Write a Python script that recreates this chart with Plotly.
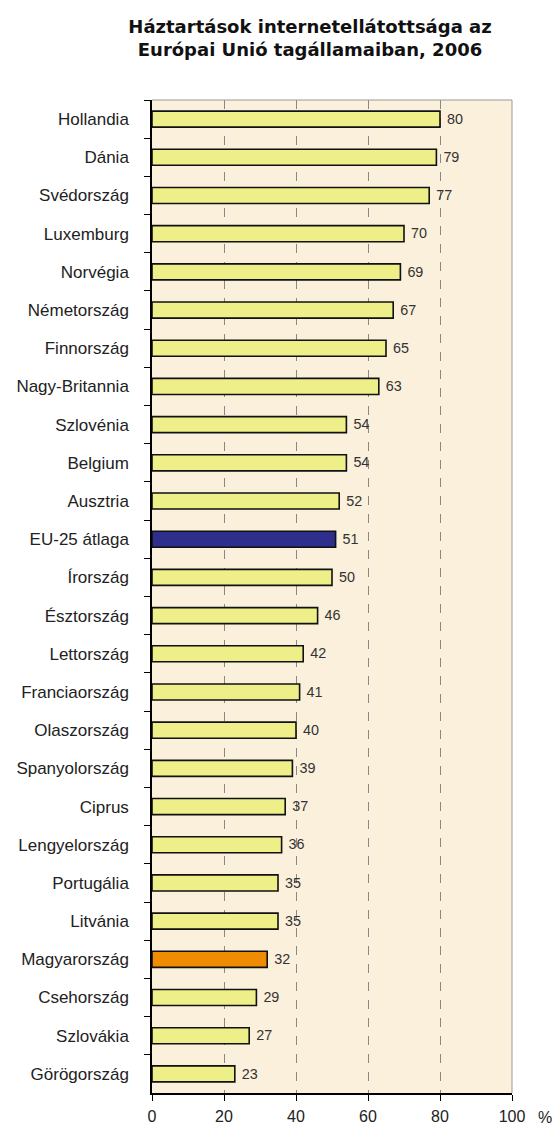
import plotly.graph_objects as go

countries = ["Hollandia", "Dánia", "Svédország", "Luxemburg", "Norvégia", "Németország",
             "Finnország", "Nagy-Britannia", "Szlovénia", "Belgium", "Ausztria", "EU-25 átlaga",
             "Írország", "Észtország", "Lettország", "Franciaország", "Olaszország",
             "Spanyolország", "Ciprus", "Lengyelország", "Portugália", "Litvánia",
             "Magyarország", "Csehország", "Szlovákia", "Görögország"]
values = [80, 79, 77, 70, 69, 67, 65, 63, 54, 54, 52, 51, 50, 46, 42, 41, 40, 39, 37, 36, 35, 35, 32, 29, 27, 23]
x_ticks = [0, 20, 40, 60, 80, 100]

default_color = "#EFEF8A"
highlight = {"EU-25 átlaga": "#2E2E8C", "Magyarország": "#F08C00"}
colors = [highlight.get(c, default_color) for c in countries]

FONT = "Liberation Sans, Arial, sans-serif"

fig = go.Figure(go.Bar(
    x=values, y=countries, orientation="h",
    marker=dict(color=colors, line=dict(color="#111111", width=1.6)),
    texttemplate="\u00a0%{x}", textposition="outside",
    textfont=dict(family=FONT, size=17, color="#333333"),
    cliponaxis=False,
))

fig.update_layout(
    width=557, height=1128,
    margin=dict(l=152, r=45, t=100, b=35, autoexpand=False),
    paper_bgcolor="white", plot_bgcolor="#FBF0DB",
    bargap=0.58, showlegend=False,
    title=dict(text="<b>Háztartások internetellátottsága az<br>Európai Unió tagállamaiban, 2006</b>",
               x=310 / 557, xanchor="center", yref="container", y=1 - 33 / 1128, yanchor="top",
               font=dict(family="DejaVu Sans, sans-serif", size=18, color="#111111")),
    font=dict(family=FONT, size=17, color="#222222"),
)
fig.update_xaxes(range=[0, 100], tickvals=x_ticks, ticks="outside", ticklen=6, tickcolor="black",
                 showline=True, linecolor="black", linewidth=1.5, automargin=False,
                 showgrid=True, gridcolor="#888888", griddash="dash", gridwidth=1,
                 zeroline=False, ticklabelstandoff=2, tickfont=dict(size=16, color="#222222"))
fig.update_yaxes(autorange="reversed", ticks="outside", ticklen=6, tickcolor="black",
                 tickson="boundaries", showline=True, linecolor="black", linewidth=1.5,
                 automargin=False,
                 showgrid=False, ticklabelstandoff=18, tickfont=dict(size=17, color="#222222"))
fig.add_shape(type="line", xref="paper", yref="paper", x0=0, x1=1, y0=1, y1=1,
              line=dict(color="#999999", width=1))
fig.add_shape(type="line", xref="paper", yref="paper", x0=1, x1=1, y0=0, y1=1,
              line=dict(color="#999999", width=1))
fig.add_annotation(text="%", xref="paper", yref="paper", x=(545 - 152) / 360, y=0, yshift=-24,
                   showarrow=False, xanchor="center", yanchor="middle",
                   font=dict(size=16, color="#222222"))
fig.write_html("out.html", config={"displayModeBar": False},
               post_script="document.body.style.margin='0';")
